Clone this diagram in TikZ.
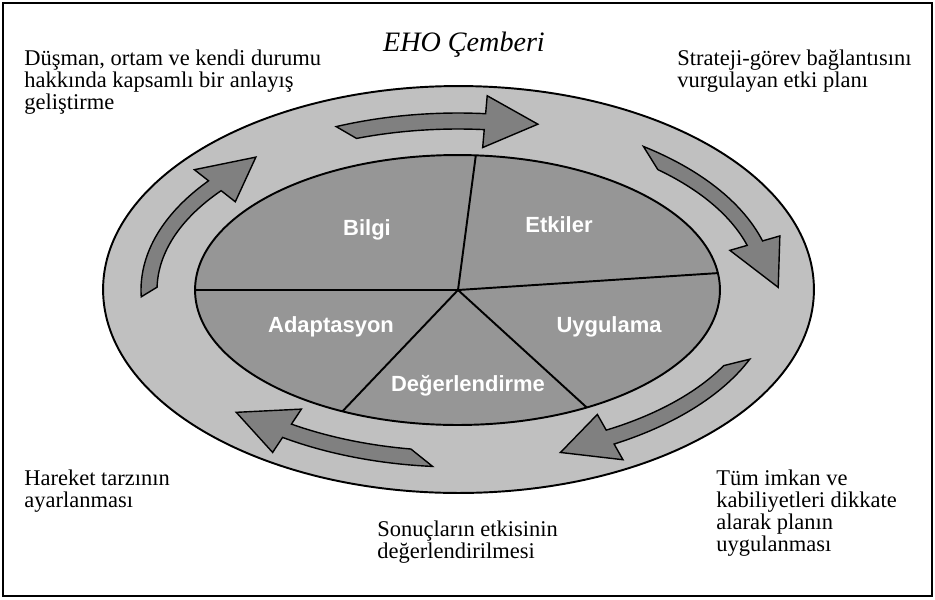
\documentclass[tikz,border=0pt]{standalone}
\usepackage{fontspec}
\setmainfont{Liberation Serif}
\newfontfamily\piefont{Liberation Sans}
\usetikzlibrary{calc}
\definecolor{ringgray}{HTML}{C0C0C0}
\definecolor{piegray}{HTML}{969696}
\definecolor{arrowgray}{HTML}{808080}
\tikzset{
  note/.style={anchor=north west, align=left, inner sep=0pt, font=\fontsize{12.8}{12.4}\selectfont},
  slice/.style={font=\piefont\bfseries\fontsize{12.5}{14}\selectfont, text=white, inner sep=0pt},
  ringarrow/.style={fill=arrowgray, draw=black, line width=0.8pt, line join=miter},
  edge/.style={draw=black, line width=1.1pt},
}
% middle line of the ring, in pixel units
\newcommand{\ecx}{458}
\newcommand{\ecy}{290}
\newcommand{\erx}{309}
\newcommand{\ery}{169}
\newcommand{\aw}{8}
\newcommand{\ah}{26}
% #1 outer tail, #2 inner tail, #3 head base, #4 head length
\newcommand{\ringarrow}[4]{%
  \pgfmathsetmacro{\tgx}{-sin(#3)}
  \pgfmathsetmacro{\tgy}{\ery/\erx*cos(#3)}
  \pgfmathsetmacro{\tgn}{sqrt(\tgx*\tgx+\tgy*\tgy)}
  \path[ringarrow] plot[domain=#1:#3,samples=30] ({\ecx+(\erx+\aw)*cos(\x)},{\ecy+(\ery+\aw)*sin(\x)})
    -- ({\ecx+(\erx+\ah)*cos(#3)},{\ecy+(\ery+\ah)*sin(#3)})
    -- ({\ecx+\erx*cos(#3)+#4*\tgx/\tgn},{\ecy+\ery*sin(#3)+#4*\tgy/\tgn})
    -- ({\ecx+(\erx-\ah)*cos(#3)},{\ecy+(\ery-\ah)*sin(#3)})
    -- plot[domain=#3:#2,samples=30] ({\ecx+(\erx-\aw)*cos(\x)},{\ecy+(\ery-\aw)*sin(\x)})
    -- cycle;
}
\begin{document}
\begin{tikzpicture}[x=0.02cm, y=-0.02cm]
  \useasboundingbox (0,0) rectangle (935,599);
  \draw[line width=1.6pt] (3,3) rectangle (932,596);

  % outer ring
  \draw[edge, fill=ringgray] (458.5,289.5) ellipse [x radius=7.11cm, y radius=4.07cm];

  % arrows round the ring
  \ringarrow{247.4}{250.3}{275}{53}
  \ringarrow{305.8}{311.6}{343.9}{50}
  \ringarrow{23}{28}{60.5}{52}
  \ringarrow{94.6}{99}{123.6}{54}
  \ringarrow{177.8}{181}{218.1}{50}

  % inner pie
  \draw[edge, fill=piegray] (457.5,290) ellipse [x radius=5.25cm, y radius=2.7cm];
  \coordinate (ctr) at (458,290);
  \foreach \a/\nm in {180/pl, 274/pt, 352.8/pr, 60.5/pbr, 116/pbl}
    \coordinate (\nm) at ({457.5+262.5*cos(\a)},{290+135*sin(\a)});
  \draw[edge] (ctr) -- (pl);
  \draw[edge] (ctr) -- (pt);
  \draw[edge] (ctr) -- (pr);
  \draw[edge] (ctr) -- (pbr);
  \draw[edge] (ctr) -- (pbl);

  \node[slice] (bilgi) at (367,230) {Bilgi};
  \node[slice] (etkiler) at (559,225) {Etkiler};
  \node[slice] (adapt) at (331,327) {Adaptasyon};
  \node[slice] (uyg) at (609,327) {Uygulama};
  \node[slice] (deger) at (468,386) {Değerlendirme};

  % texts round the circle
  \node[font=\itshape\fontsize{16}{19}\selectfont, inner sep=0pt] (title) at (464,45) {EHO Çemberi};
  \node[note] (anlayis) at (24,50) {Düşman, ortam ve kendi durumu\\hakkında kapsamlı bir anlayış\\geliştirme};
  \node[note] (plan) at (677,50) {Strateji-görev bağlantısını\\vurgulayan etki planı};
  \node[note] (uygtxt) at (716,470) {Tüm imkan ve\\kabiliyetleri dikkate\\alarak planın\\uygulanması};
  \node[note] (sonuc) at (377,521) {Sonuçların etkisinin\\değerlendirilmesi};
  \node[note] (hareket) at (24,470) {Hareket tarzının\\ayarlanması};
\end{tikzpicture}
\end{document}
